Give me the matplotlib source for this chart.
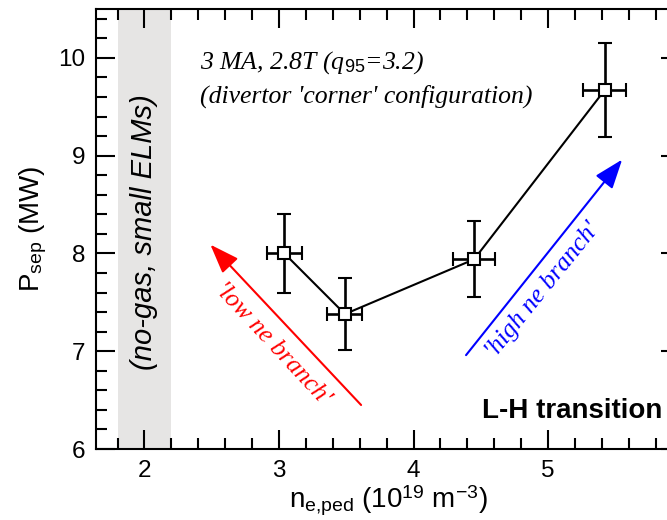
import numpy as np
import matplotlib
matplotlib.use("Agg")
import matplotlib.pyplot as plt
from matplotlib.ticker import MultipleLocator

# data
ne_ped = [3.04, 3.49, 4.45, 5.42]
ne_err = [0.13, 0.13, 0.155, 0.16]
p_sep = [8.00, 7.38, 7.94, 9.67]
p_err = [0.40, 0.37, 0.39, 0.48]

band = (1.8, 2.2)   # no-gas, small ELMs region
low_arrow = [(3.61, 6.45), (2.49, 8.09)]
high_arrow = [(4.39, 6.96), (5.55, 8.96)]

plt.rcParams['font.family'] = ['Liberation Sans', 'DejaVu Sans']
plt.rcParams['mathtext.fontset'] = 'custom'
plt.rcParams['mathtext.rm'] = 'Liberation Sans'
plt.rcParams['mathtext.it'] = 'Liberation Serif:italic'

fig = plt.figure(figsize=(6.67, 5.20), dpi=100)
ax = fig.add_axes([96/667, 71/520, 584/667, 440/520])

ax.axvspan(band[0], band[1], color='#e6e5e4', lw=0, zorder=0)

ax.plot(ne_ped, p_sep, color='black', lw=1.5, zorder=2)
ax.errorbar(ne_ped, p_sep, xerr=ne_err, yerr=p_err, fmt='s', mfc='white', mec='black',
            mew=1.5, ms=9, ecolor='black', elinewidth=1.9, capsize=5, capthick=1.9, zorder=3)

# arrows
ax.annotate('', xy=low_arrow[1], xytext=low_arrow[0],
            arrowprops=dict(arrowstyle='-|>,head_length=0.6,head_width=0.22', color='red',
                            lw=1.5, mutation_scale=30, shrinkA=0, shrinkB=0))
ax.annotate('', xy=high_arrow[1], xytext=high_arrow[0],
            arrowprops=dict(arrowstyle='-|>,head_length=0.6,head_width=0.22', color='blue',
                            lw=1.5, mutation_scale=30, shrinkA=0, shrinkB=0))
ax.text(2.95, 7.08, "'low ne branch'", color='red', rotation=-47, fontsize=18.5,
        family='Liberation Serif', style='italic', ha='center', va='center',
        rotation_mode='anchor')
ax.text(4.96, 7.62, "'high ne branch'", color='blue', rotation=51, fontsize=18.5,
        family='Liberation Serif', style='italic', ha='center', va='center',
        rotation_mode='anchor')

ax.text(2.0, 8.22, '(no-gas, small ELMs)', rotation=90, fontsize=21, style='italic',
        ha='center', va='center')
ax.text(2.41, 9.95, r"3 MA, 2.8T (q$_{\mathit{95}}$=3.2)", fontsize=18.5,
        family='Liberation Serif', style='italic', ha='left', va='center')
ax.text(2.41, 9.61, "(divertor 'corner' configuration)", fontsize=18.5,
        family='Liberation Serif', style='italic', ha='left', va='center')
ax.text(5.85, 6.39, 'L-H transition', fontsize=20, fontweight='bold', ha='right', va='center')

ax.set_xlim(1.64, 5.98)
ax.set_ylim(6, 10.5)
ax.xaxis.set_major_locator(MultipleLocator(1))
ax.xaxis.set_minor_locator(MultipleLocator(0.2))
ax.yaxis.set_major_locator(MultipleLocator(1))
ax.yaxis.set_minor_locator(MultipleLocator(0.2))
ax.tick_params(which='both', direction='in', top=True, right=True, width=1.5,
               labelsize=17.5, pad=8)
ax.tick_params(which='major', length=14)
ax.tick_params(which='minor', length=8)
for s in ax.spines.values():
    s.set_linewidth(1.5)

ax.set_xlabel(r'n$_{\mathrm{e{,}ped}}$ (10$^{\mathrm{19}}$ m$^{\mathrm{-3}}$)', fontsize=20, labelpad=1)
ax.set_ylabel(r'P$_{\mathrm{sep}}$ (MW)', fontsize=20, labelpad=6)

fig.savefig('out.png', dpi=100)
